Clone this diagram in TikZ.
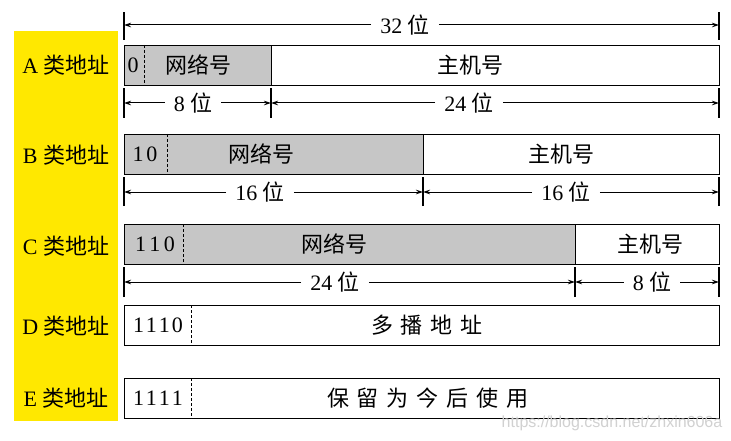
\documentclass[tikz,border=0pt]{standalone}
\usepackage{fontspec}
\setmainfont{Liberation Serif}
\newfontfamily\cjk{Noto Sans CJK SC}
\newfontfamily\wmfont{Liberation Sans}
\usetikzlibrary{arrows.meta}
\definecolor{netgray}{RGB}{198,198,198}
\definecolor{labelyellow}{RGB}{255,232,0}
\begin{document}
\begin{tikzpicture}[x=1pt,y=-1pt,
  seg/.style={draw, line width=1.2pt, minimum height=40pt, inner sep=0pt, anchor=north west},
  netseg/.style={seg, fill=netgray},
  hostseg/.style={seg, fill=white},
  txt/.style={font=\fontsize{22}{22}\selectfont, inner sep=0pt},
  bits/.style={font=\fontsize{22}{22}\selectfont, inner sep=9pt},
  dimline/.style={line width=1pt, -{Stealth[length=7pt,width=4.5pt]}},
  tickline/.style={line width=1.1pt},
  sepline/.style={line width=1pt, dash pattern=on 3pt off 2pt},
  classlbl/.style={font=\fontsize{22}{22}\selectfont, inner sep=0pt}
]
\useasboundingbox (0,0) rectangle (731,441);
\fill[white] (0,0) rectangle (731,441);
% yellow label column
\fill[labelyellow] (14,31) rectangle (118,421);
\node[classlbl] (la) at (66,65)  {A {\cjk 类地址}};
\node[classlbl] (lb) at (66,155) {B {\cjk 类地址}};
\node[classlbl] (lc) at (66,246) {C {\cjk 类地址}};
\node[classlbl] (ld) at (66,326) {D {\cjk 类地址}};
\node[classlbl] (le) at (66,398) {E {\cjk 类地址}};

% 32 bit dimension
\coordinate (t32l) at (124,25);
\coordinate (t32r) at (719,25);
\draw[tickline] ([yshift=-15pt]t32l) -- ([yshift=13pt]t32l);
\draw[tickline] ([yshift=-15pt]t32r) -- ([yshift=13pt]t32r);
\node[bits] (d32) at (405,25) {32 {\cjk 位}};
\draw[dimline] (d32.west) -- (t32l);
\draw[dimline] (d32.east) -- (t32r);

% ---- A ----
\node[netseg, minimum width=147pt] (anet) at (124,45) {};
\node[hostseg, minimum width=448pt] (ahost) at (271,45) {};
\draw[sepline] ([xshift=20pt]anet.north west) -- ([xshift=20pt]anet.south west);
\node[txt] (a0) at (133,65) {0};
\node[txt] (an) at (198,65) {\cjk 网络号};
\node[txt] (ah) at (470,65) {\cjk 主机号};
\coordinate (ta1) at (124,103);
\coordinate (ta2) at (271,103);
\coordinate (ta3) at (719,103);
\foreach \t in {ta1,ta2,ta3} \draw[tickline] ([yshift=-15pt]\t) -- ([yshift=15pt]\t);
\node[bits] (da8) at (193,103) {8 {\cjk 位}};
\node[bits] (da24) at (469,103) {24 {\cjk 位}};
\draw[dimline] (da8.west) -- (ta1);
\draw[dimline] (da8.east) -- (ta2);
\draw[dimline] (da24.west) -- (ta2);
\draw[dimline] (da24.east) -- (ta3);

% ---- B ----
\node[netseg, minimum width=299pt] (bnet) at (124,134) {};
\node[hostseg, minimum width=296pt] (bhost) at (423,134) {};
\draw[sepline] ([xshift=43pt]bnet.north west) -- ([xshift=43pt]bnet.south west);
\node[txt] (b0) at (145,154) {1\hspace{3pt}0};
\node[txt] (bn) at (261,154) {\cjk 网络号};
\node[txt] (bh) at (561,154) {\cjk 主机号};
\coordinate (tb1) at (124,192);
\coordinate (tb2) at (423,192);
\coordinate (tb3) at (719,192);
\foreach \t in {tb1,tb2,tb3} \draw[tickline] ([yshift=-14pt]\t) -- ([yshift=15pt]\t);
\node[bits] (db1) at (260,192) {16 {\cjk 位}};
\node[bits] (db2) at (566,192) {16 {\cjk 位}};
\draw[dimline] (db1.west) -- (tb1);
\draw[dimline] (db1.east) -- (tb2);
\draw[dimline] (db2.west) -- (tb2);
\draw[dimline] (db2.east) -- (tb3);

% ---- C ----
\node[netseg, minimum width=451pt] (cnet) at (124,224) {};
\node[hostseg, minimum width=144pt] (chost) at (575,224) {};
\draw[sepline] ([xshift=59pt]cnet.north west) -- ([xshift=59pt]cnet.south west);
\node[txt] (c0) at (155,244) {1\hspace{3.5pt}1\hspace{3.5pt}0};
\node[txt] (cn) at (334,244) {\cjk 网络号};
\node[txt] (ch) at (650,244) {\cjk 主机号};
\coordinate (tc1) at (124,282);
\coordinate (tc2) at (575,282);
\coordinate (tc3) at (719,282);
\foreach \t in {tc1,tc2,tc3} \draw[tickline] ([yshift=-15pt]\t) -- ([yshift=15pt]\t);
\node[bits] (dc1) at (335,282) {24 {\cjk 位}};
\node[bits] (dc2) at (652,282) {8 {\cjk 位}};
\draw[dimline] (dc1.west) -- (tc1);
\draw[dimline] (dc1.east) -- (tc2);
\draw[dimline] (dc2.west) -- (tc2);
\draw[dimline] (dc2.east) -- (tc3);

% ---- D ----
\node[hostseg, minimum width=595pt] (dbox) at (124,305) {};
\draw[sepline] ([xshift=67pt]dbox.north west) -- ([xshift=67pt]dbox.south west);
\node[txt] (d0) at (158,325) {1\hspace{2pt}1\hspace{2pt}1\hspace{2pt}0};
\node[txt] (dt) at (427,325) {\cjk 多\hspace{8pt}播\hspace{8pt}地\hspace{8pt}址};

% ---- E ----
\node[hostseg, minimum width=595pt] (ebox) at (124,378) {};
\draw[sepline] ([xshift=67pt]ebox.north west) -- ([xshift=67pt]ebox.south west);
\node[txt] (e0) at (158,398) {1\hspace{2pt}1\hspace{2pt}1\hspace{2pt}1};
\node[txt] (et) at (428,398) {\cjk 保\hspace{8pt}留\hspace{8pt}为\hspace{8pt}今\hspace{8pt}后\hspace{8pt}使\hspace{8pt}用};

% watermark
\node[font=\wmfont\fontsize{16}{16}\selectfont, text=black!18, inner sep=0pt] (wm) at (612,423) {https://blog.csdn.net/zhxin606a};
\end{tikzpicture}
\end{document}
